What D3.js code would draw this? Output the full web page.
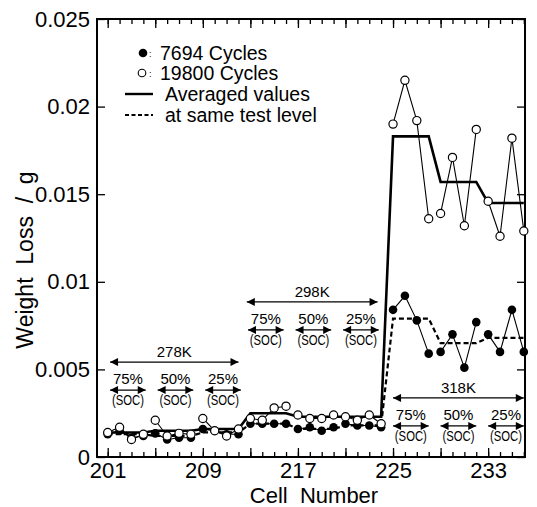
<!DOCTYPE html>
<html>
<head>
<meta charset="utf-8">
<script src="https://cdn.jsdelivr.net/npm/d3@7"></script>
<style>
  body { margin: 0; background: #fff; }
  text { font-family: "Liberation Sans", Arial, sans-serif; fill: #000; }
</style>
</head>
<body>
<svg id="chart"></svg>
<script>
// cell numbers on the x axis
const cells = d3.range(201, 237);

// weight loss (g) after 7694 cycles (filled circles)
const loss7694 = [
  0.0013, 0.0015, 0.0011, 0.0012,
  0.00135, 0.0010, 0.0011, 0.0011,
  0.0016, 0.0015, 0.0013, 0.0013,
  0.0019, 0.0019, 0.0019, 0.0019,
  0.0016, 0.0017, 0.0015, 0.0017,
  0.0019, 0.0018, 0.0018, 0.0017,
  0.0084, 0.0092, 0.0078, 0.0059,
  0.0060, 0.0070, 0.0051, 0.0077,
  0.0070, 0.0060, 0.0084, 0.0060
];

// weight loss (g) after 19800 cycles (open circles)
const loss19800 = [
  0.0014, 0.0017, 0.0010, 0.0013,
  0.0021, 0.0012, 0.00135, 0.0013,
  0.0022, 0.0015, 0.0012, 0.0016,
  0.0022, 0.0021, 0.0028, 0.0029,
  0.0024, 0.0022, 0.0022, 0.0024,
  0.0023, 0.0021, 0.0024, 0.0019,
  0.0190, 0.0215, 0.0192, 0.0136,
  0.0139, 0.0171, 0.0132, 0.0187,
  0.0146, 0.0126, 0.0182, 0.0129
];

// test levels: 4 cells each
const groupStarts = [201, 205, 209, 213, 217, 221, 225, 229, 233];
const avg19800 = [0.0014, 0.0015, 0.0016, 0.0025, 0.0023, 0.0023, 0.0183, 0.0157, 0.0145];
const avg7694  = [0.0013, 0.0012, 0.0014, 0.0019, 0.0016, 0.0018, 0.0079, 0.0065, 0.0068];

const yTicks = [0, 0.005, 0.01, 0.015, 0.02, 0.025];
const xLabelTicks = [201, 209, 217, 225, 233];
const tempLabels = ['278K', '298K', '318K'];
const socLabels = ['75%', '50%', '25%'];

// annotation placement in data units (cell span and arrow height)
const tempSpans = [[201.2, 212.0], [212.7, 223.7], [225.0, 236.0]];
const tempArrowY = [0.00542, 0.00885, 0.00337];
const socShift = [0.2, -0.2, 0];

const width = 537, height = 507;
const margin = { top: 19, right: 12, bottom: 50, left: 97 };

const svg = d3.select('#chart')
    .attr('width', width)
    .attr('height', height);

const x = d3.scaleLinear()
    .domain([200.1, 236.1])
    .range([margin.left, width - margin.right]);

const y = d3.scaleLinear()
    .domain([0, 0.025])
    .range([height - margin.bottom, margin.top]);

const bottom = height - margin.bottom;
const right = width - margin.right;

// arrow heads
const defs = svg.append('defs');
defs.append('marker')
    .attr('id', 'head')
    .attr('viewBox', '0 0 10 10')
    .attr('refX', 10).attr('refY', 5)
    .attr('markerWidth', 9).attr('markerHeight', 8)
    .attr('markerUnits', 'userSpaceOnUse')
    .attr('orient', 'auto-start-reverse')
  .append('path')
    .attr('d', 'M0,0 L10,5 L0,10 Z')
    .attr('fill', '#000');

// ---- axes (ticks point inward) ----
const majorCells = cells.filter(c => (c - 201) % 4 === 0);

svg.append('g')
    .attr('transform', `translate(0,${bottom})`)
    .call(d3.axisBottom(x).tickValues(cells).tickSize(-5).tickFormat(''))
    .call(g => g.select('.domain').remove());

svg.append('g')
    .attr('transform', `translate(0,${bottom})`)
    .call(d3.axisBottom(x).tickValues(majorCells).tickSize(-9).tickPadding(5)
      .tickFormat(d => xLabelTicks.includes(d) ? d : ''))
    .call(g => g.select('.domain').remove())
    .call(g => g.selectAll('text').style('font-size', '22px'));

svg.append('g')
    .attr('transform', `translate(0,${margin.top})`)
    .call(d3.axisTop(x).tickValues(cells).tickSize(-5).tickFormat(''))
    .call(g => g.select('.domain').remove());

svg.append('g')
    .attr('transform', `translate(0,${margin.top})`)
    .call(d3.axisTop(x).tickValues(majorCells).tickSize(-9).tickFormat(''))
    .call(g => g.select('.domain').remove());

svg.append('g')
    .attr('transform', `translate(${margin.left},0)`)
    .call(d3.axisLeft(y).tickValues(yTicks).tickSize(-8).tickPadding(7)
      .tickFormat(d => String(+d.toFixed(3))))
    .call(g => g.select('.domain').remove())
    .call(g => g.selectAll('text').style('font-size', '22px'));

svg.append('g')
    .attr('transform', `translate(${right},0)`)
    .call(d3.axisRight(y).tickValues(yTicks).tickSize(-8).tickFormat(''))
    .call(g => g.select('.domain').remove());

svg.selectAll('.tick line').attr('stroke', '#000').attr('stroke-width', 1.3);

svg.append('rect')
    .attr('x', margin.left).attr('y', margin.top)
    .attr('width', right - margin.left)
    .attr('height', bottom - margin.top)
    .attr('fill', 'none')
    .attr('stroke', '#000')
    .attr('stroke-width', 2);

// axis titles
svg.append('text')
    .attr('x', (margin.left + right) / 2 + 3)
    .attr('y', 503)
    .attr('text-anchor', 'middle')
    .style('font-size', '22px')
    .style('white-space', 'pre')
    .text('Cell  Number');

svg.append('text')
    .attr('transform', `translate(33,260) rotate(-90)`)
    .attr('text-anchor', 'middle')
    .style('font-size', '23px')
    .style('white-space', 'pre')
    .text('Weight  Loss  /  g');

// ---- data ----
const line = d3.line().x(d => x(d[0])).y(d => y(d[1]));

const groupPoints = values => groupStarts.map(s =>
  cells.map((c, i) => [c, values[i]]).filter(d => d[0] >= s && d[0] < s + 4));

svg.append('g').selectAll('path')
    .data(groupPoints(loss7694).concat(groupPoints(loss19800)))
  .join('path')
    .attr('d', line)
    .attr('fill', 'none')
    .attr('stroke', '#000')
    .attr('stroke-width', 1.1);

const avgPoints = values => groupStarts.flatMap((s, i) => [[s, values[i]], [s + 3, values[i]]]);

svg.append('path')
    .attr('d', line(avgPoints(avg19800)))
    .attr('fill', 'none')
    .attr('stroke', '#000')
    .attr('stroke-width', 2.6);

svg.append('path')
    .attr('d', line(avgPoints(avg7694)))
    .attr('fill', 'none')
    .attr('stroke', '#000')
    .attr('stroke-width', 2.2)
    .attr('stroke-dasharray', '5,3');

svg.append('g').selectAll('circle')
    .data(cells.map((c, i) => [c, loss7694[i]]))
  .join('circle')
    .attr('cx', d => x(d[0]))
    .attr('cy', d => y(d[1]))
    .attr('r', 4.3)
    .attr('fill', '#000');

svg.append('g').selectAll('circle')
    .data(cells.map((c, i) => [c, loss19800[i]]))
  .join('circle')
    .attr('cx', d => x(d[0]))
    .attr('cy', d => y(d[1]))
    .attr('r', 4.1)
    .attr('fill', '#fff')
    .attr('stroke', '#000')
    .attr('stroke-width', 1.2);

// ---- temperature / SOC annotations ----
tempLabels.forEach((label, t) => {
  const [a, b] = tempSpans[t];
  const ay = y(tempArrowY[t]);
  const g = svg.append('g');

  g.append('line')
      .attr('x1', x(a)).attr('x2', x(b))
      .attr('y1', ay).attr('y2', ay)
      .attr('stroke', '#000').attr('stroke-width', 1.3)
      .attr('marker-start', 'url(#head)')
      .attr('marker-end', 'url(#head)');

  g.append('text')
      .attr('x', x((a + b) / 2))
      .attr('y', ay - 5)
      .attr('text-anchor', 'middle')
      .style('font-size', '15px')
      .text(label);

  socLabels.forEach((soc, s) => {
    const start = groupStarts[t * 3 + s] + socShift[t];
    const cx = x(start + 1.5);
    g.append('line')
        .attr('x1', x(start)).attr('x2', x(start + 3))
        .attr('y1', ay + 28).attr('y2', ay + 28)
        .attr('stroke', '#000').attr('stroke-width', 1.3)
        .attr('marker-start', 'url(#head)')
        .attr('marker-end', 'url(#head)');
    g.append('text')
        .attr('x', cx)
        .attr('y', ay + 22)
        .attr('text-anchor', 'middle')
        .style('font-size', '15px')
        .text(soc);
    g.append('text')
        .attr('x', cx - 16)
        .attr('y', ay + 43)
        .attr('textLength', 32)
        .attr('lengthAdjust', 'spacingAndGlyphs')
        .style('font-size', '15px')
        .text('(SOC)');
  });
});

// ---- legend ----
const legend = svg.append('g');
legend.append('circle').attr('cx', 143).attr('cy', 53).attr('r', 4.3).attr('fill', '#000');
legend.append('circle').attr('cx', 142).attr('cy', 73).attr('r', 3.8)
    .attr('fill', '#fff').attr('stroke', '#000').attr('stroke-width', 1.1);
legend.selectAll('.colon')
    .data([57, 77])
  .join('text')
    .attr('class', 'colon')
    .attr('x', 149).attr('y', d => d)
    .style('font-size', '9px')
    .text(':');
legend.append('text').attr('x', 160).attr('y', 60).style('font-size', '19.5px').text('7694 Cycles');
legend.append('text').attr('x', 160).attr('y', 80).style('font-size', '19.5px').text('19800 Cycles');
legend.append('line').attr('x1', 125).attr('x2', 153).attr('y1', 94).attr('y2', 94)
    .attr('stroke', '#000').attr('stroke-width', 2.4);
legend.append('line').attr('x1', 125).attr('x2', 153).attr('y1', 115).attr('y2', 115)
    .attr('stroke', '#000').attr('stroke-width', 2).attr('stroke-dasharray', '4,2.5');
legend.append('text').attr('x', 165).attr('y', 101).style('font-size', '19.5px').text('Averaged values');
legend.append('text').attr('x', 165).attr('y', 122).style('font-size', '19.5px').text('at same test level');
</script>
</body>
</html>
